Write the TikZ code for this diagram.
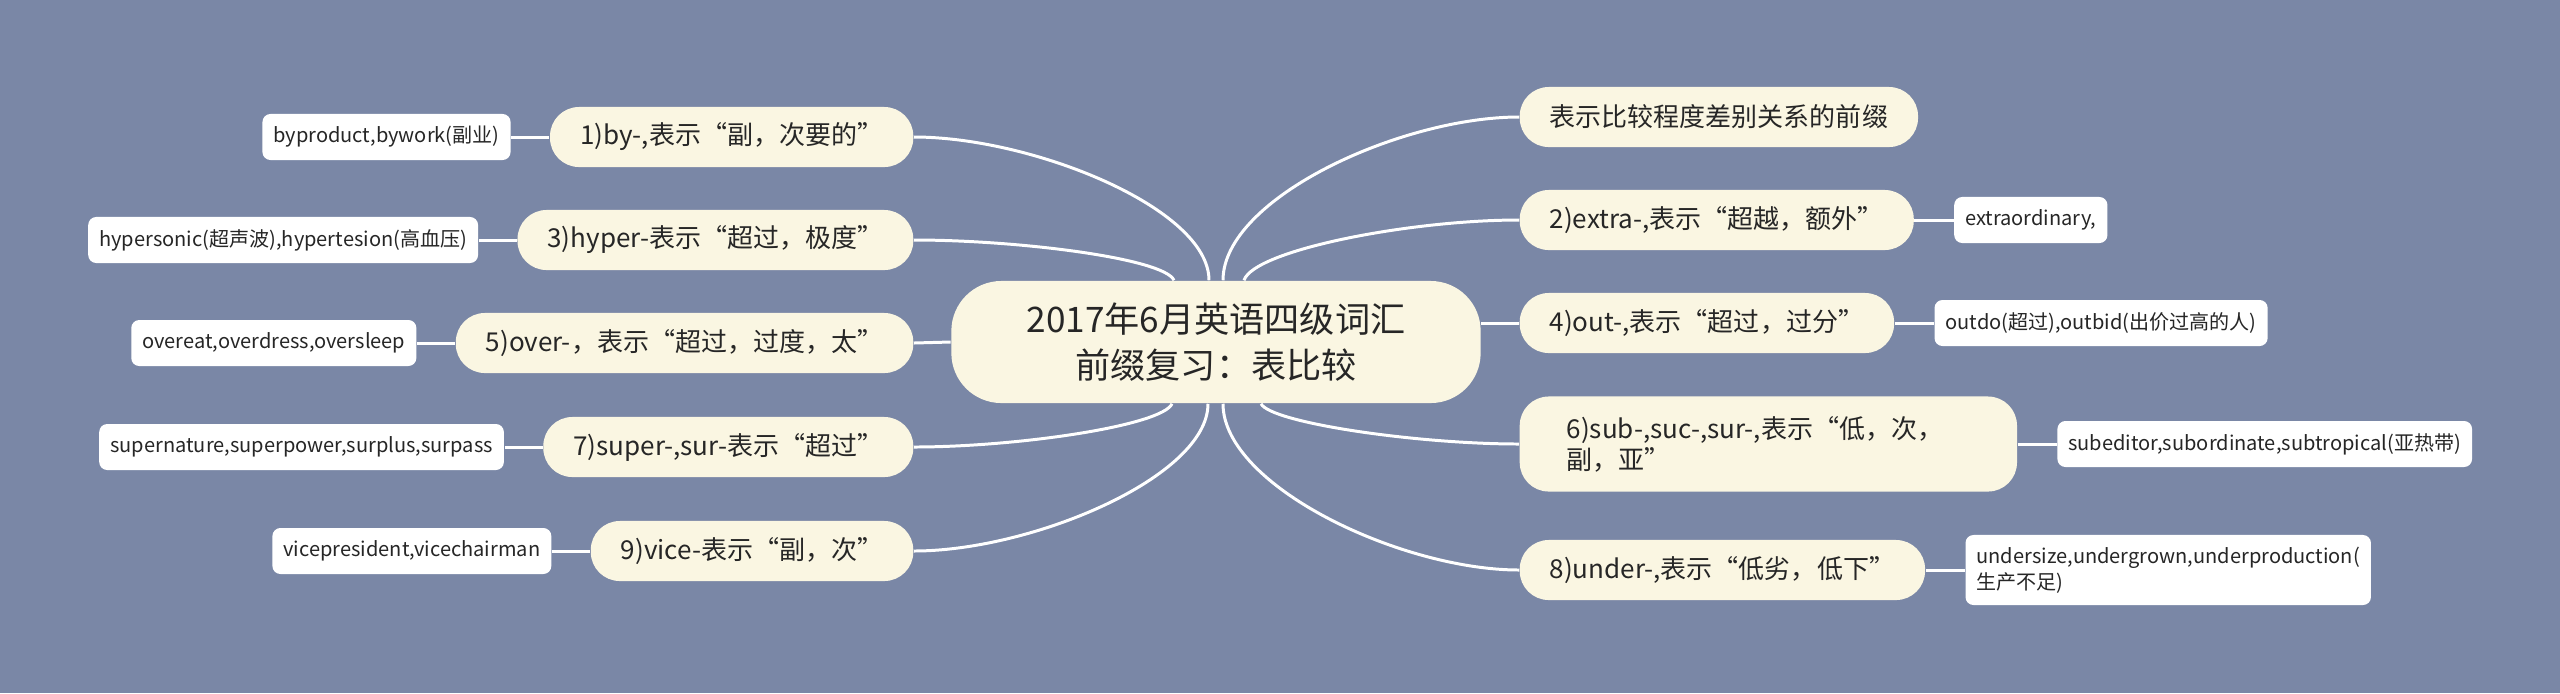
\documentclass[tikz,border=0pt]{standalone}
\usepackage{fontspec}
\setmainfont{Noto Sans CJK SC}
\usetikzlibrary{positioning, calc}

\definecolor{bgblue}{RGB}{122,135,166}
\definecolor{cream}{RGB}{250,246,226}
\definecolor{ink}{RGB}{38,38,38}

\begin{document}
\begin{tikzpicture}[
    x=0.01cm, y=-0.01cm,
    ctrbox/.style ={rectangle, fill=cream, rounded corners=0.5cm, minimum width=5.29cm, minimum height=1.22cm, align=center, text=ink, font=\fontsize{10}{13}\selectfont},
    topic/.style  ={rectangle, fill=cream, rounded corners=0.29cm, minimum height=0.6cm, inner xsep=0.3cm, align=left, text=ink, font=\fontsize{7.4}{8.8}\selectfont},
    leaf/.style   ={rectangle, fill=white, rounded corners=0.08cm, minimum height=0.46cm, inner xsep=0.11cm, align=left, text=ink, font=\fontsize{5.7}{7.4}\selectfont},
    link/.style   ={draw=white, line width=0.85pt},
    ]

    % --- Background ---
    \fill[bgblue] (0,0) rectangle (2560,693);
    \useasboundingbox (0,0) rectangle (2560,693);

    % --- Central topic ---
    \node[ctrbox] (ctr) at (1216,342) {2017年6月英语四级词汇\\前缀复习：表比较};

    % --- Left branches ---
    \node[topic, anchor=east] (p_by)    at (914,137) {1)by-,表示“副，次要的”};
    \node[topic, anchor=east] (p_hyper) at (914,240) {3)hyper-表示“超过，极度”};
    \node[topic, anchor=east] (p_over)  at (914,343) {5)over-，表示“超过，过度，太”};
    \node[topic, anchor=east] (p_super) at (914,447) {7)super-,sur-表示“超过”};
    \node[topic, anchor=east] (p_vice)  at (914,551) {9)vice-表示“副，次”};

    \node[leaf, left=0.38cm of p_by]    (w_by)    {byproduct,bywork(副业)};
    \node[leaf, left=0.38cm of p_hyper] (w_hyper) {hypersonic(超声波),hypertesion(高血压)};
    \node[leaf, left=0.38cm of p_over]  (w_over)  {overeat,overdress,oversleep};
    \node[leaf, left=0.38cm of p_super] (w_super) {supernature,superpower,surplus,surpass};
    \node[leaf, left=0.38cm of p_vice]  (w_vice)  {vicepresident,vicechairman};

    % --- Right branches ---
    \node[topic, anchor=west] (p_note)  at (1519,117) {表示比较程度差别关系的前缀};
    \node[topic, anchor=west] (p_extra) at (1519,220) {2)extra-,表示“超越，额外”};
    \node[topic, anchor=west] (p_out)   at (1519,323) {4)out-,表示“超过，过分”};
    \node[topic, anchor=west, minimum height=0.95cm, inner xsep=0.47cm, text width=4.03cm] (p_sub) at (1519,444) {6)sub-,suc-,sur-,表示“低，次，\\副，亚”};
    \node[topic, anchor=west] (p_under) at (1519,570) {8)under-,表示“低劣，低下”};

    \node[leaf, right=0.39cm of p_extra] (w_extra) {extraordinary,};
    \node[leaf, right=0.39cm of p_out]   (w_out)   {outdo(超过),outbid(出价过高的人)};
    \node[leaf, right=0.39cm of p_sub]   (w_sub)   {subeditor,subordinate,subtropical(亚热带)};
    \node[leaf, right=0.39cm of p_under, minimum height=0.7cm] (w_under) {undersize,undergrown,underproduction(\\生产不足)};

    % --- Connections: centre to branches ---
    \draw[link] ($(ctr.north)+(-7,0)$)  .. controls +(0,-72) and +(118,0) .. (p_by.east);
    \draw[link] ($(ctr.north)+(-42,0)$) .. controls +(-10,-22) and +(104,0) .. (p_hyper.east);
    \draw[link] (ctr.west) -- (p_over.east);
    \draw[link] ($(ctr.south)+(-44,0)$) .. controls +(-10,22) and +(103,0) .. (p_super.east);
    \draw[link] ($(ctr.south)+(-8,0)$)  .. controls +(0,73) and +(118,0) .. (p_vice.east);

    \draw[link] ($(ctr.north)+(7,0)$)   .. controls +(0,-82) and +(-118,0) .. (p_note.west);
    \draw[link] ($(ctr.north)+(28,0)$)  .. controls +(10,-30) and +(-110,0) .. (p_extra.west);
    \draw[link] (p_out.west -| ctr.east) -- (p_out.west);
    \draw[link] ($(ctr.south)+(45,0)$)  .. controls +(10,19) and +(-103,0) .. (p_sub.west);
    \draw[link] ($(ctr.south)+(7,0)$)   .. controls +(0,82) and +(-118,0) .. (p_under.west);

    % --- Branches to examples ---
    \draw[link] (p_by)    -- (w_by);
    \draw[link] (p_hyper) -- (w_hyper);
    \draw[link] (p_over)  -- (w_over);
    \draw[link] (p_super) -- (w_super);
    \draw[link] (p_vice)  -- (w_vice);
    \draw[link] (p_extra) -- (w_extra);
    \draw[link] (p_out)   -- (w_out);
    \draw[link] (p_sub)   -- (w_sub);
    \draw[link] (p_under) -- (w_under);

\end{tikzpicture}
\end{document}
